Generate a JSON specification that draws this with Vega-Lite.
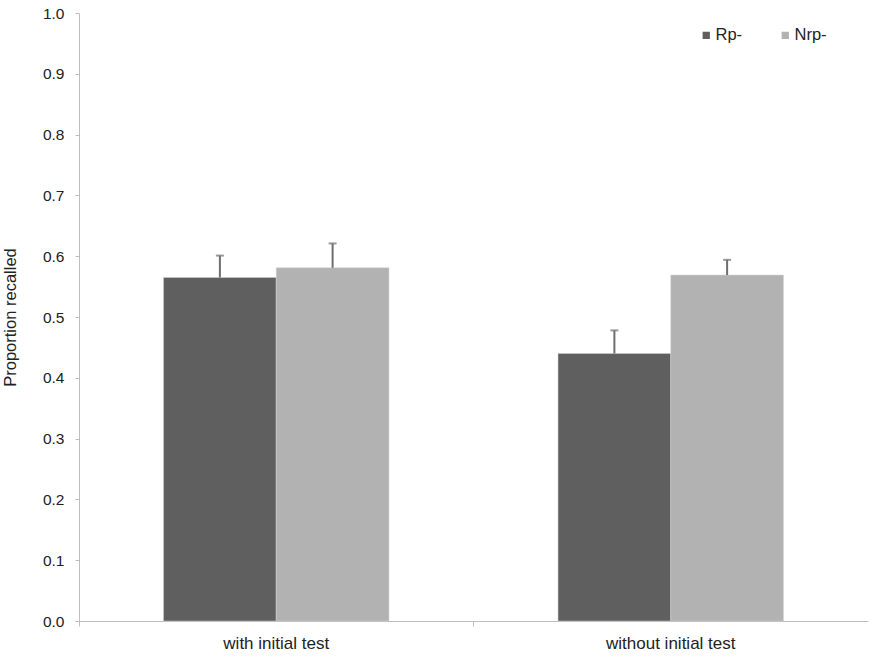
{
  "$schema": "https://vega.github.io/schema/vega-lite/v6.json",
  "description": "Proportion recalled for Rp- and Nrp- items, with and without initial test",
  "autosize": "none",
  "width": 789,
  "height": 608,
  "padding": {"left": 79, "top": 13, "right": 4, "bottom": 36},
  "background": "white",
  "config": {
    "font": "Liberation Sans",
    "view": {"stroke": null},
    "axis": {
      "labelFont": "Liberation Sans",
      "labelColor": "#222222",
      "titleFont": "Liberation Sans",
      "titleFontWeight": "normal",
      "titleColor": "#222222",
      "domainColor": "#bdbdbd",
      "tickColor": "#bdbdbd",
      "grid": false
    },
    "legend": {
      "labelFont": "Liberation Sans",
      "labelFontSize": 16.5,
      "labelColor": "#222222"
    }
  },
  "data": {
    "values": [
      {"condition": "with initial test", "type": "Rp-", "value": 0.565, "upper": 0.601},
      {"condition": "with initial test", "type": "Nrp-", "value": 0.581, "upper": 0.621},
      {"condition": "without initial test", "type": "Rp-", "value": 0.44, "upper": 0.478},
      {"condition": "without initial test", "type": "Nrp-", "value": 0.569, "upper": 0.594}
    ]
  },
  "encoding": {
    "x": {
      "field": "condition",
      "type": "nominal",
      "sort": ["with initial test", "without initial test"],
      "scale": {"paddingInner": 0, "paddingOuter": 0},
      "axis": {
        "title": null,
        "labelAngle": 0,
        "labelFontSize": 17,
        "bandPosition": 0,
        "tickSize": 5,
        "labelPadding": 9,
        "labelBound": false
      }
    },
    "xOffset": {
      "field": "type",
      "type": "nominal",
      "sort": ["Rp-", "Nrp-"],
      "scale": {"paddingInner": 0, "paddingOuter": 0.75}
    }
  },
  "layer": [
    {
      "mark": {"type": "bar", "stroke": "#d0d0d0", "strokeWidth": 0.5},
      "encoding": {
        "y": {
          "field": "value",
          "type": "quantitative",
          "scale": {"domain": [0, 1]},
          "axis": {
            "title": "Proportion recalled",
            "titleFontSize": 16.5,
            "labelFontSize": 15.5,
            "tickCount": 10,
            "format": ".1f",
            "tickSize": 4,
            "labelPadding": 11,
            "titlePadding": 24
          }
        },
        "color": {
          "field": "type",
          "type": "nominal",
          "sort": ["Rp-", "Nrp-"],
          "scale": {"domain": ["Rp-", "Nrp-"], "range": ["#5f5f5f", "#b2b2b2"]},
          "legend": {
            "title": null,
            "orient": "none",
            "legendX": 619,
            "legendY": 14,
            "direction": "horizontal",
            "symbolType": "square",
            "symbolSize": 53,
            "symbolStrokeWidth": 0,
            "labelOffset": 1,
            "columnPadding": 34
          }
        }
      }
    },
    {
      "mark": {"type": "rule", "color": "#6e6e6e", "strokeWidth": 2},
      "encoding": {
        "y": {"field": "value", "type": "quantitative"},
        "y2": {"field": "upper"}
      }
    },
    {
      "mark": {"type": "tick", "color": "#6e6e6e", "size": 8, "thickness": 2, "orient": "horizontal"},
      "encoding": {
        "y": {"field": "upper", "type": "quantitative"}
      }
    }
  ]
}
